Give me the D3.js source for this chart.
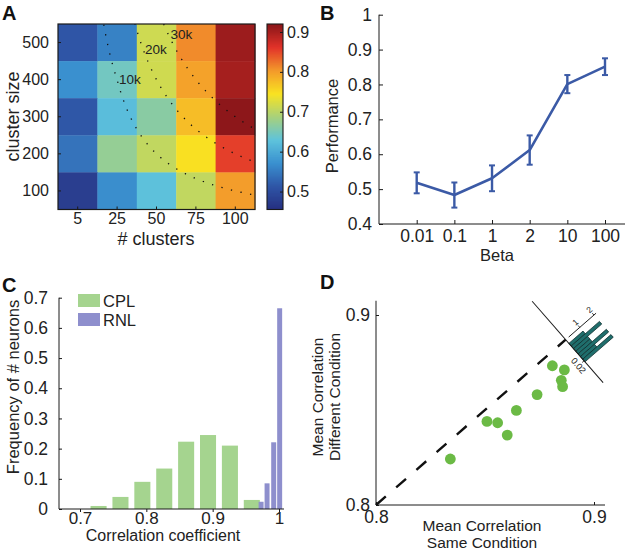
<!DOCTYPE html>
<html>
<head>
<meta charset="utf-8">
<script src="https://cdn.jsdelivr.net/npm/d3@7"></script>
<style>
  body { margin: 0; background: #fff; }
  svg { font-family: "Liberation Sans", Arial, Helvetica, sans-serif; }
</style>
</head>
<body>
<svg id="fig" width="625" height="554"></svg>
<script>
// ---- panel A : heatmap ----
var clusterCounts = ["5", "25", "50", "75", "100"];
var clusterSizes = ["500", "400", "300", "200", "100"];
var perfGrid = [
  [0.513, 0.557, 0.715, 0.812, 0.908],
  [0.571, 0.646, 0.716, 0.797, 0.902],
  [0.515, 0.623, 0.664, 0.776, 0.918],
  [0.543, 0.673, 0.706, 0.748, 0.855],
  [0.478, 0.569, 0.627, 0.706, 0.801]
];
var contourLevels = [10000, 20000, 30000];
var contourLabels = ["10k", "20k", "30k"];
var contourLabelAt = [400, 482, 521];   // cluster size where each label sits
var colorbarTicks = [0.5, 0.6, 0.7, 0.8, 0.9];

// ---- panel B : performance vs beta ----
var betaLabels = ["0.01", "0.1", "1", "2", "10", "100"];
var betaPerf = [0.518, 0.483, 0.531, 0.612, 0.801, 0.851];
var betaErr = [0.030, 0.036, 0.037, 0.042, 0.026, 0.024];
var perfTicks = [0.4, 0.5, 0.6, 0.7, 0.8, 0.9, 1];

// ---- panel C : histograms ----
var cplBins = [0.728, 0.761, 0.794, 0.827, 0.860, 0.893, 0.926, 0.959];
var cplFreq = [0.010, 0.040, 0.090, 0.134, 0.223, 0.245, 0.210, 0.030];
var rnlBins = [0.973, 0.982, 0.992, 1.001];
var rnlFreq = [0.024, 0.085, 0.221, 0.665];
var freqTicks = [0, 0.1, 0.2, 0.3, 0.4, 0.5, 0.6, 0.7];
var corrTicks = [0.7, 0.8, 0.9, 1];

// ---- panel D : scatter + diagonal histogram ----
var sameCond = [0.8341, 0.8509, 0.8558, 0.8602, 0.8644, 0.8739, 0.8809, 0.8864, 0.8850, 0.8856];
var diffCond = [0.8242, 0.8440, 0.8433, 0.8368, 0.8498, 0.8581, 0.8733, 0.8711, 0.8656, 0.8623];
var diffBinStart = [0.0035, 0.0060, 0.0085, 0.0110, 0.0135, 0.0160, 0.0185];
var diffCounts = [1, 2, 1, 1, 2, 1, 2];
var diffBinWidth = 0.0025;
var meanTicks = [0.8, 0.9];

var svg = d3.select("#fig");
var ink = "#1a1a1a";

function panelLetter(txt, x, y) {
  svg.append("text").attr("x", x).attr("y", y)
    .attr("font-size", 20).attr("font-weight", "bold").attr("fill", "#111")
    .text(txt);
}
function styleAxis(g, size) {
  g.select(".domain").remove();
  g.selectAll(".tick line").attr("stroke", ink);
  g.selectAll(".tick text").attr("font-size", size).attr("fill", "#222");
}

// ================= A =================
var jetColors = ["#262f80", "#2f55a6", "#3a90cf", "#5ec3dc", "#a7d17d", "#f9e322", "#f39a2b", "#e2332a", "#8a1619"];
var cDomain = [0.455, 0.92];
var color = d3.scaleLinear()
  .domain(jetColors.map(function (c, i) { return cDomain[0] + i * (cDomain[1] - cDomain[0]) / (jetColors.length - 1); }))
  .range(jetColors).clamp(true);

var ax = d3.scaleBand().domain(clusterCounts).range([58, 255]);
var ay = d3.scaleBand().domain(clusterSizes).range([24, 209.5]);
var gA = svg.append("g");

var cells = [];
perfGrid.forEach(function (row, i) {
  row.forEach(function (v, j) { cells.push({ r: clusterSizes[i], c: clusterCounts[j], v: v }); });
});
gA.selectAll("rect.cell").data(cells).enter().append("rect")
  .attr("class", "cell")
  .attr("x", function (d) { return ax(d.c); })
  .attr("y", function (d) { return ay(d.r); })
  .attr("width", ax.bandwidth() + 0.4)
  .attr("height", ay.bandwidth() + 0.4)
  .attr("fill", function (d) { return color(d.v); });

// iso-neuron contours (count * size = const)
var cx = d3.scaleLinear()
  .domain(clusterCounts.map(Number))
  .range(clusterCounts.map(function (d) { return ax(d) + ax.bandwidth() / 2; }));
var cy = d3.scaleLinear().domain([100, 500])
  .range([ay("100") + ay.bandwidth() / 2, ay("500") + ay.bandwidth() / 2]);

gA.append("clipPath").attr("id", "clipA").append("rect")
  .attr("x", 58).attr("y", 24).attr("width", 197).attr("height", 185.5);

var sizeSamples = d3.range(30, 650, 0.5);
contourLevels.forEach(function (k, i) {
  var line = d3.line()
    .x(function (s) { return cx(k / s); })
    .y(function (s) { return cy(s); });
  gA.append("path").datum(sizeSamples)
    .attr("clip-path", "url(#clipA)")
    .attr("d", line)
    .attr("fill", "none").attr("stroke", "#111")
    .attr("stroke-width", 1.3).attr("stroke-dasharray", "1.3,8.5");
  gA.append("text")
    .attr("x", cx(k / contourLabelAt[i]) + 2)
    .attr("y", cy(contourLabelAt[i]) + 4.5)
    .attr("font-size", 13.5).attr("fill", "#222")
    .text(contourLabels[i]);
});

gA.append("rect").attr("x", 58).attr("y", 24).attr("width", 197).attr("height", 185.5)
  .attr("fill", "none").attr("stroke", ink).attr("stroke-width", 1.2);

// axes
var gAy = gA.append("g").attr("transform", "translate(58,0)")
  .call(d3.axisLeft(ay).tickSize(-3).tickPadding(9));
styleAxis(gAy, 16);
var gAx = gA.append("g").attr("transform", "translate(0,209.5)")
  .call(d3.axisBottom(ax).tickSize(-3).tickPadding(3));
styleAxis(gAx, 16);

gA.append("text").attr("transform", "translate(19,116.5) rotate(-90)")
  .attr("text-anchor", "middle").attr("font-size", 18).attr("fill", "#222")
  .text("cluster size");
gA.append("text").attr("x", 156).attr("y", 245)
  .attr("text-anchor", "middle").attr("font-size", 18).attr("fill", "#222")
  .text("# clusters");

// colorbar
var cbY = d3.scaleLinear().domain(cDomain).range([209.5, 24]);
var cbSteps = d3.range(cDomain[0], cDomain[1], 0.0025);
gA.selectAll("rect.cb").data(cbSteps).enter().append("rect")
  .attr("class", "cb")
  .attr("x", 267).attr("width", 16)
  .attr("y", function (d) { return cbY(d + 0.0025); })
  .attr("height", function (d) { return cbY(d) - cbY(d + 0.0025) + 0.5; })
  .attr("fill", function (d) { return color(d + 0.00125); });
gA.append("rect").attr("x", 267).attr("y", 24).attr("width", 16).attr("height", 185.5)
  .attr("fill", "none").attr("stroke", ink).attr("stroke-width", 1.1);
var gCb = gA.append("g").attr("transform", "translate(283,0)")
  .call(d3.axisRight(cbY).tickValues(colorbarTicks).tickSize(-3).tickPadding(4)
    .tickFormat(d3.format(".1f")));
styleAxis(gCb, 16);

panelLetter("A", 2, 20);

// ================= B =================
var bx = d3.scalePoint().domain(betaLabels).range([416.7, 605]);
var by = d3.scaleLinear().domain([0.4, 1]).range([224, 14.7]);
var gB = svg.append("g");

gB.append("line").attr("x1", 379).attr("x2", 379).attr("y1", by(1)).attr("y2", by(0.4))
  .attr("stroke", ink).attr("stroke-width", 1);
gB.append("line").attr("x1", 379).attr("x2", 625).attr("y1", by(0.4)).attr("y2", by(0.4))
  .attr("stroke", ink).attr("stroke-width", 1);

var gBy = gB.append("g").attr("transform", "translate(379,0)")
  .call(d3.axisLeft(by).tickValues(perfTicks).tickSize(-4).tickPadding(7)
    .tickFormat(function (d) { return d === 1 ? "1" : d.toFixed(1); }));
styleAxis(gBy, 17.5);
var gBx = gB.append("g").attr("transform", "translate(0," + by(0.4) + ")")
  .call(d3.axisBottom(bx).tickSize(-4).tickPadding(6));
styleAxis(gBx, 17.5);

var blue = "#3b5aa6";
gB.append("path").datum(betaPerf)
  .attr("d", d3.line()
    .x(function (d, i) { return bx(betaLabels[i]); })
    .y(function (d) { return by(d); }))
  .attr("fill", "none").attr("stroke", blue).attr("stroke-width", 2.6)
  .attr("stroke-linejoin", "round");

var eb = gB.selectAll("g.eb").data(betaPerf).enter().append("g").attr("class", "eb")
  .attr("transform", function (d, i) { return "translate(" + bx(betaLabels[i]) + ",0)"; });
eb.append("line")
  .attr("y1", function (d, i) { return by(d - betaErr[i]); })
  .attr("y2", function (d, i) { return by(d + betaErr[i]); })
  .attr("stroke", blue).attr("stroke-width", 2.4);
eb.append("line").attr("x1", -3).attr("x2", 3)
  .attr("y1", function (d, i) { return by(d + betaErr[i]); })
  .attr("y2", function (d, i) { return by(d + betaErr[i]); })
  .attr("stroke", blue).attr("stroke-width", 2);
eb.append("line").attr("x1", -3).attr("x2", 3)
  .attr("y1", function (d, i) { return by(d - betaErr[i]); })
  .attr("y2", function (d, i) { return by(d - betaErr[i]); })
  .attr("stroke", blue).attr("stroke-width", 2);

gB.append("text").attr("transform", "translate(338,126) rotate(-90)")
  .attr("text-anchor", "middle").attr("font-size", 16.5).attr("fill", "#222")
  .text("Performance");
gB.append("text").attr("x", 497).attr("y", 261)
  .attr("text-anchor", "middle").attr("font-size", 16.5).attr("fill", "#222")
  .text("Beta");

panelLetter("B", 320, 20);

// ================= C =================
var hx = d3.scaleLinear().domain([0.7, 1]).range([80, 279]);
var hy = d3.scaleLinear().domain([0, 0.7]).range([509, 297.7]);
var cplWidth = 0.0242, rnlWidth = 0.0075;
var green = "#a5d48f", purple = "#8e8fcd";
var gC = svg.append("g");

gC.selectAll("rect.cpl").data(cplFreq).enter().append("rect").attr("class", "cpl")
  .attr("x", function (d, i) { return hx(cplBins[i] - cplWidth / 2); })
  .attr("width", hx(0.7 + cplWidth) - hx(0.7))
  .attr("y", function (d) { return hy(d); })
  .attr("height", function (d) { return hy(0) - hy(d); })
  .attr("fill", green);
gC.selectAll("rect.rnl").data(rnlFreq).enter().append("rect").attr("class", "rnl")
  .attr("x", function (d, i) { return hx(rnlBins[i] - rnlWidth / 2); })
  .attr("width", hx(0.7 + rnlWidth) - hx(0.7))
  .attr("y", function (d) { return hy(d); })
  .attr("height", function (d) { return hy(0) - hy(d); })
  .attr("fill", purple);

gC.append("line").attr("x1", 59).attr("x2", 59).attr("y1", hy(0.7)).attr("y2", hy(0))
  .attr("stroke", ink);
gC.append("line").attr("x1", 59).attr("x2", 284).attr("y1", hy(0)).attr("y2", hy(0))
  .attr("stroke", ink);
var gCy = gC.append("g").attr("transform", "translate(59,0)")
  .call(d3.axisLeft(hy).tickValues(freqTicks).tickSize(-3).tickPadding(11)
    .tickFormat(function (d) { return d === 0 ? "0" : d.toFixed(1); }));
styleAxis(gCy, 17.5);
var gCx = gC.append("g").attr("transform", "translate(0," + hy(0) + ")")
  .call(d3.axisBottom(hx).tickValues(corrTicks).tickSize(3).tickPadding(0)
    .tickFormat(function (d) { return d === 1 ? "1" : d.toFixed(1); }));
styleAxis(gCx, 17);

// legend
var legend = [["CPL", green], ["RNL", purple]];
legend.forEach(function (l, i) {
  gC.append("rect").attr("x", 78).attr("y", 294 + i * 19).attr("width", 22).attr("height", 13)
    .attr("fill", l[1]);
  gC.append("text").attr("x", 103).attr("y", 306.5 + i * 19)
    .attr("font-size", 16.5).attr("fill", "#222").text(l[0]);
});

gC.append("text").attr("transform", "translate(19,387) rotate(-90)")
  .attr("text-anchor", "middle").attr("font-size", 16.5).attr("fill", "#222")
  .text("Frequency of # neurons");
gC.append("text").attr("x", 163).attr("y", 541)
  .attr("text-anchor", "middle").attr("font-size", 16).attr("fill", "#222")
  .text("Correlation coefficient");

panelLetter("C", 2, 292);

// ================= D =================
var px = d3.scaleLinear().domain([0.8, 0.9]).range([376, 594]);
var py = d3.scaleLinear().domain([0.8, 0.9]).range([505, 315]);
var gD = svg.append("g");

gD.append("line").attr("x1", 376).attr("x2", 376).attr("y1", py(0.8)).attr("y2", py(0.9075))
  .attr("stroke", ink);
gD.append("line").attr("x1", 376).attr("x2", 605).attr("y1", py(0.8)).attr("y2", py(0.8))
  .attr("stroke", ink);
var gDy = gD.append("g").attr("transform", "translate(376,0)")
  .call(d3.axisLeft(py).tickValues(meanTicks).tickSize(-3).tickPadding(6).tickFormat(d3.format(".1f")));
styleAxis(gDy, 17.5);
var gDx = gD.append("g").attr("transform", "translate(0," + py(0.8) + ")")
  .call(d3.axisBottom(px).tickValues(meanTicks).tickSize(-3).tickPadding(6).tickFormat(d3.format(".1f")));
styleAxis(gDx, 17.5);

// unity line
var unityEnd = 0.887;
gD.append("line")
  .attr("x1", px(0.8)).attr("y1", py(0.8)).attr("x2", px(unityEnd)).attr("y2", py(unityEnd))
  .attr("stroke", "#111").attr("stroke-width", 2.4).attr("stroke-dasharray", "13,13.8");

gD.selectAll("circle").data(sameCond).enter().append("circle")
  .attr("cx", function (d) { return px(d); })
  .attr("cy", function (d, i) { return py(diffCond[i]); })
  .attr("r", 5.4).attr("fill", "#6bba45");

// diagonal histogram of (same - different)
var ang = Math.atan2(py(0.9) - py(0.8), px(0.9) - px(0.8)) * 180 / Math.PI + 90;
var gI = gD.append("g")
  .attr("transform", "translate(" + px(unityEnd) + "," + py(unityEnd) + ") rotate(" + ang + ")");
var ds = d3.scaleLinear().domain([0, 0.02]).range([0, 28]);
var cs = d3.scaleLinear().domain([0, 2]).range([0, 37.5]);

gI.selectAll("rect").data(diffCounts).enter().append("rect")
  .attr("x", function (d, i) { return ds(diffBinStart[i]); })
  .attr("width", ds(diffBinWidth) - ds(0))
  .attr("y", function (d) { return -cs(d); })
  .attr("height", function (d) { return cs(d); })
  .attr("fill", "#1f6e6c").attr("stroke", "#0c2a2a").attr("stroke-width", 0.7);
gI.append("line").attr("x1", -51).attr("x2", 57).attr("stroke", ink).attr("stroke-width", 1);
gI.append("line").attr("x1", ds(0.02)).attr("x2", ds(0.02)).attr("y1", 0).attr("y2", 2.5)
  .attr("stroke", ink).attr("stroke-width", 0.8);
gI.append("text").attr("x", ds(0.02)).attr("y", 10.5)
  .attr("text-anchor", "middle").attr("font-size", 9).attr("fill", "#222").text("0.02");
gI.append("line").attr("x1", 0).attr("x2", 0).attr("y1", -4).attr("y2", -cs(2.15))
  .attr("stroke", ink).attr("stroke-width", 0.9);
[1, 2].forEach(function (c) {
  gI.append("line").attr("x1", 0).attr("x2", -2.5).attr("y1", -cs(c)).attr("y2", -cs(c))
    .attr("stroke", ink).attr("stroke-width", 0.8);
  gI.append("text")
    .attr("transform", "translate(-4," + (-cs(c)) + ") rotate(-90)")
    .attr("text-anchor", "middle").attr("font-size", 8.5).attr("fill", "#222").text(c);
});

gD.append("text").attr("transform", "translate(323,397) rotate(-90)")
  .attr("text-anchor", "middle").attr("font-size", 15.5).attr("fill", "#222")
  .text("Mean Correlation");
gD.append("text").attr("transform", "translate(340,397) rotate(-90)")
  .attr("text-anchor", "middle").attr("font-size", 15.5).attr("fill", "#222")
  .text("Different Condition");
gD.append("text").attr("x", 482).attr("y", 531)
  .attr("text-anchor", "middle").attr("font-size", 15.5).attr("fill", "#222")
  .text("Mean Correlation");
gD.append("text").attr("x", 482).attr("y", 548)
  .attr("text-anchor", "middle").attr("font-size", 15.5).attr("fill", "#222")
  .text("Same Condition");

panelLetter("D", 320, 289);
</script>
</body>
</html>
